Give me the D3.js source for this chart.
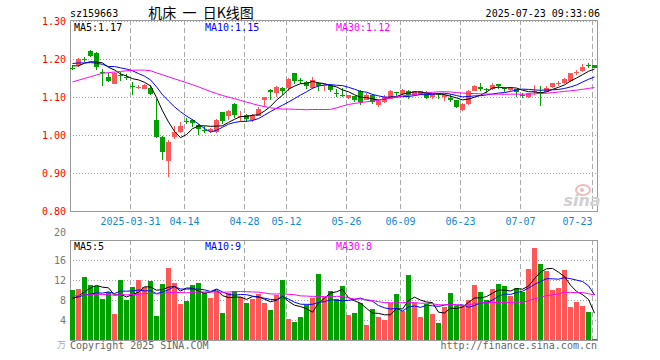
<!DOCTYPE html>
<html><head><meta charset="utf-8">
<script src="https://cdn.jsdelivr.net/npm/d3@7"></script>
<style>body{margin:0;background:#fff}svg{display:block}</style>
</head><body>
<svg id="c" width="660" height="360"></svg>
<script>
// ---- data ----
const dates = ["03-17","03-18","03-19","03-20","03-21","03-24","03-25","03-26","03-27","03-28",
"03-31","04-01","04-02","04-03","04-07","04-08","04-09","04-10","04-11",
"04-14","04-15","04-16","04-17","04-18","04-21","04-22","04-23","04-24","04-25",
"04-28","04-29","04-30","05-06","05-07","05-08","05-09",
"05-12","05-13","05-14","05-15","05-16","05-19","05-20","05-21","05-22","05-23",
"05-26","05-27","05-28","05-29","05-30","06-03","06-04","06-05","06-06",
"06-09","06-10","06-11","06-12","06-13","06-16","06-17","06-18","06-19","06-20",
"06-23","06-24","06-25","06-26","06-27","06-30","07-01","07-02","07-03","07-04",
"07-07","07-08","07-09","07-10","07-11","07-14","07-15","07-16","07-17","07-18","07-21","07-22","07-23"];
const open  = [1.177,1.183,1.200,1.222,1.217,1.165,1.153,1.135,1.158,1.152,
1.130,1.126,1.122,1.124,1.040,0.995,0.931,0.994,1.008,
1.038,1.039,1.026,1.012,1.010,1.007,1.060,1.050,1.082,1.050,
1.053,1.039,1.051,1.091,1.119,1.110,1.125,
1.124,1.163,1.145,1.139,1.124,1.137,1.130,1.131,1.111,1.106,
1.097,1.102,1.117,1.093,1.106,1.078,1.087,1.096,1.113,
1.108,1.117,1.104,1.106,1.113,1.100,1.107,1.100,1.098,1.091,
1.065,1.082,1.117,1.127,1.120,1.121,1.134,1.123,1.118,1.121,
1.106,1.099,1.114,1.114,1.113,1.126,1.137,1.137,1.141,1.164,1.168,1.184,1.183];
const high  = [1.183,1.203,1.205,1.224,1.218,1.175,1.163,1.166,1.167,1.160,
1.139,1.132,1.134,1.132,1.095,0.997,0.988,1.025,1.033,
1.046,1.041,1.030,1.023,1.018,1.042,1.061,1.065,1.083,1.062,
1.056,1.054,1.075,1.100,1.120,1.129,1.126,
1.150,1.164,1.150,1.141,1.153,1.140,1.134,1.133,1.122,1.124,
1.106,1.103,1.118,1.110,1.108,1.092,1.105,1.118,1.114,
1.122,1.118,1.117,1.117,1.115,1.109,1.111,1.108,1.108,1.092,
1.083,1.118,1.131,1.138,1.123,1.136,1.135,1.126,1.127,1.122,
1.110,1.111,1.132,1.128,1.130,1.138,1.142,1.150,1.164,1.170,1.188,1.190,1.184];
const low   = [1.170,1.180,1.192,1.205,1.171,1.128,1.140,1.133,1.141,1.145,
1.104,1.121,1.120,1.106,0.992,0.933,0.889,0.990,1.005,
1.029,1.020,1.001,1.006,1.005,1.005,1.030,1.040,1.045,1.038,
1.035,1.033,1.049,1.074,1.091,1.101,1.106,
1.115,1.135,1.135,1.121,1.120,1.116,1.116,1.113,1.100,1.099,
1.094,1.086,1.080,1.091,1.082,1.075,1.085,1.094,1.100,
1.106,1.095,1.102,1.104,1.095,1.094,1.096,1.090,1.087,1.072,
1.062,1.078,1.115,1.116,1.110,1.119,1.120,1.112,1.116,1.101,
1.097,1.097,1.106,1.077,1.112,1.124,1.130,1.135,1.139,1.158,1.166,1.176,1.176];
const close = [1.175,1.201,1.199,1.207,1.178,1.164,1.143,1.164,1.154,1.151,
1.129,1.127,1.132,1.108,0.996,0.955,0.981,1.008,1.025,
1.037,1.032,1.017,1.011,1.017,1.040,1.036,1.062,1.052,1.051,
1.043,1.052,1.069,1.100,1.112,1.126,1.116,
1.148,1.141,1.144,1.128,1.145,1.128,1.131,1.119,1.110,1.105,
1.104,1.091,1.087,1.106,1.087,1.090,1.099,1.117,1.112,
1.118,1.106,1.115,1.115,1.097,1.108,1.106,1.106,1.093,1.075,
1.082,1.117,1.130,1.120,1.118,1.132,1.130,1.120,1.124,1.112,
1.104,1.110,1.116,1.112,1.125,1.137,1.138,1.147,1.163,1.165,1.180,1.183,1.177];
const volume = [10.0,10.2,12.6,11.0,10.8,8.2,9.6,5.2,12.0,8.0,
10.6,12.0,10.6,11.8,4.8,11.2,14.4,11.4,7.2,
7.8,11.0,11.4,9.4,8.4,9.8,5.4,9.4,9.8,8.6,
7.4,8.2,9.2,7.4,6.0,9.0,12.0,
4.2,3.6,4.6,7.0,8.4,13.2,8.6,9.8,8.2,10.8,
5.0,5.4,7.4,3.0,6.2,4.6,4.0,7.4,9.2,
5.8,13.0,7.4,4.6,7.2,5.2,3.4,6.6,9.4,6.8,
6.8,8.0,11.0,9.6,8.0,10.2,11.2,10.8,8.8,10.4,
9.6,14.2,18.4,15.2,13.8,10.0,10.4,14.0,6.6,7.6,6.8,5.6,0.2];
// closes / volumes of the 29 sessions before the first visible one (for the moving averages)
const priorCloses = [1.063,1.061,1.069,1.040,1.026,1.095,1.116,1.106,1.103,1.081,
1.120,1.135,1.150,1.168,1.111,1.137,1.164,1.181,1.193,1.187,
1.185,1.200,1.195,1.198,1.192,1.201,1.164,1.187,1.183];
const priorVolumes = [9.5,8.2,10.1,7.6,9.0,11.2,8.4,7.9,9.8,8.6,
10.4,7.2,9.1,8.8,9.6,8.0,10.0,8.5,9.3,8.8,
9.4,8.1,9.6,8.3,8.6,7.2,8.5,7.0,8.3];
const priceTicks = [1.30,1.20,1.10,1.00,0.90,0.80];
const volTicks = [20,16,12,8,4];
const dateTicks = ["03-31","04-14","04-28","05-12","05-26","06-09","06-23","07-07","07-23"];
const dateTickLabels = ["2025-03-31","04-14","04-28","05-12","05-26","06-09","06-23","07-07","07-23"];
const maPeriods = [5,10,30];
const maColors = ["#000000","#0000ff","#ff00ff"];
const priceMaLabels = ["MA5:1.17","MA10:1.15","MA30:1.12"];
const volMaLabels = ["MA5:5","MA10:9","MA30:8"];
const code = "sz159663", title = "机床  一  日K线图", stamp = "2025-07-23 09:33:06";

// ---- drawing ----
const svg = d3.select("#c");
const L = 70, R = 597;
const mono = "'DejaVu Sans Mono', monospace";
const RED = "#fe5757", GREEN = "#00a000";
const x = d3.scaleBand().domain(dates).range([L - 0.5, R + 0.5]);
const cx = d => Math.round(x(d) + x.bandwidth() / 2) + 0.5 - 1;
const yP = d3.scaleLinear().domain([0.8, 1.3]).range([211, 21]);
const yV = d3.scaleLinear().domain([0, 20]).range([340, 240]);

function ma(all, n, offset) {
  return dates.map((d, i) => d3.mean(all.slice(offset + i - n + 1, offset + i + 1)));
}
const allC = priorCloses.concat(close), allV = priorVolumes.concat(volume);

// header
svg.append("text").attr("x", 70).attr("y", 17).attr("font-family", mono).attr("font-size", 10).text(code);
svg.append("text").attr("x", 201).attr("y", 18).attr("text-anchor", "middle").style("white-space", "pre")
  .attr("font-family", "'Noto Sans CJK SC'").attr("font-size", 14).text(title);
svg.append("text").attr("x", 600).attr("y", 17).attr("text-anchor", "end").attr("font-family", mono).attr("font-size", 10).text(stamp);

function panel(top, bottom, scale, ticks, tickFmt, tickColor, topShift) {
  const g = svg.append("g").attr("shape-rendering", "crispEdges");
  ticks.forEach(t => {
    const yy = Math.round(scale(t)) + 0.5;
    if (yy > top + 1 && yy < bottom - 1)
      g.append("line").attr("x1", L).attr("x2", R).attr("y1", yy).attr("y2", yy)
        .attr("stroke", "#a0a0a0").attr("stroke-dasharray", "1,2");
    const ly = (Math.abs(scale(t) - top) < 1 ? scale(t) - topShift : scale(t)) + 4;
    svg.append("text").attr("x", 66).attr("y", ly).attr("text-anchor", "end")
      .attr("font-family", mono).attr("font-size", 10).attr("fill", tickColor).text(tickFmt(t));
  });
  dateTicks.forEach(d => {
    const xx = Math.round(x(d)) + 0.5;
    g.append("line").attr("x1", xx).attr("x2", xx).attr("y1", top).attr("y2", bottom)
      .attr("stroke", "#a8a8a8").attr("stroke-dasharray", "5,3");
  });
  g.append("rect").attr("x", L + 0.5).attr("y", top + 0.5).attr("width", R - L).attr("height", bottom - top)
    .attr("fill", "none").attr("stroke", "#999");
}
panel(20, 211, yP, priceTicks, t => t.toFixed(2), "#ff0000", 0);
panel(240, 340, yV, volTicks, t => String(t), "#777", 8);

// date labels
dateTicks.forEach((d, k) => {
  const xx = Math.round(x(d)) + 0.5;
  const last = k === dateTicks.length - 1;
  svg.append("text").attr("x", xx).attr("y", 225)
    .attr("text-anchor", last ? "end" : "middle")
    .attr("font-family", mono).attr("font-size", 10).attr("fill", "#1487d2").text(dateTickLabels[k]);
});

// candles
const cg = svg.append("g").attr("shape-rendering", "crispEdges");
dates.forEach((d, i) => {
  const up = close[i] > open[i];
  const col = up ? RED : GREEN;
  const xc = cx(d);
  cg.append("line").attr("x1", xc).attr("x2", xc).attr("y1", yP(high[i])).attr("y2", yP(low[i])).attr("stroke", col);
  const yt = Math.round(yP(Math.max(open[i], close[i]))), yb = Math.round(yP(Math.min(open[i], close[i])));
  cg.append("rect").attr("x", xc - 2.5).attr("y", yt).attr("width", 5).attr("height", Math.max(1, yb - yt)).attr("fill", col);
});

// volume bars
const vg = svg.append("g").attr("shape-rendering", "crispEdges");
dates.forEach((d, i) => {
  const up = close[i] > open[i];
  const xc = cx(d);
  vg.append("rect").attr("x", xc - 2.5).attr("y", yV(volume[i])).attr("width", 5)
    .attr("height", yV(0) - yV(volume[i])).attr("fill", up ? RED : GREEN);
});

// moving averages
maPeriods.forEach((n, k) => {
  const pm = ma(allC, n, priorCloses.length), vm = ma(allV, n, priorVolumes.length);
  svg.append("path").attr("d", d3.line().x((v, i) => cx(dates[i])).y(v => yP(v))(pm))
    .attr("fill", "none").attr("stroke", maColors[k]).attr("stroke-width", 1);
  svg.append("path").attr("d", d3.line().x((v, i) => cx(dates[i])).y(v => yV(v))(vm))
    .attr("fill", "none").attr("stroke", maColors[k]).attr("stroke-width", 1);
});

// MA labels
const labX = [74, 205, 336];
priceMaLabels.forEach((t, k) => svg.append("text").attr("x", labX[k]).attr("y", 31)
  .attr("font-family", mono).attr("font-size", 10).attr("fill", maColors[k]).text(t));
volMaLabels.forEach((t, k) => svg.append("text").attr("x", labX[k]).attr("y", 250)
  .attr("font-family", mono).attr("font-size", 10).attr("fill", maColors[k]).text(t));

// unit, footer, watermark
svg.append("text").attr("x", 66).attr("y", 348).attr("text-anchor", "end").attr("font-family", "'Noto Sans CJK SC'")
  .attr("font-size", 9).attr("fill", "#aaa").text("万");
svg.append("text").attr("x", 70).attr("y", 349).attr("font-family", mono).attr("font-size", 10).attr("fill", "#666").text("Copyright 2025 SINA.COM");
svg.append("text").attr("x", 597).attr("y", 349).attr("text-anchor", "end").attr("font-family", mono).attr("font-size", 10).attr("fill", "#666").text("http://finance.sina.com.cn");
svg.append("ellipse").attr("cx", 583).attr("cy", 190).attr("rx", 7).attr("ry", 5).attr("fill", "none").attr("stroke", "#f3b8b8").attr("stroke-width", 2);
svg.append("circle").attr("cx", 582).attr("cy", 190).attr("r", 2).attr("fill", "#f3b8b8");
svg.append("text").attr("x", 582).attr("y", 206).attr("text-anchor", "middle").attr("font-family", "'DejaVu Sans'")
  .attr("font-weight", "bold").attr("font-style", "italic").attr("font-size", 16).attr("fill", "#d0d0d0").text("sina");
</script></body></html>
